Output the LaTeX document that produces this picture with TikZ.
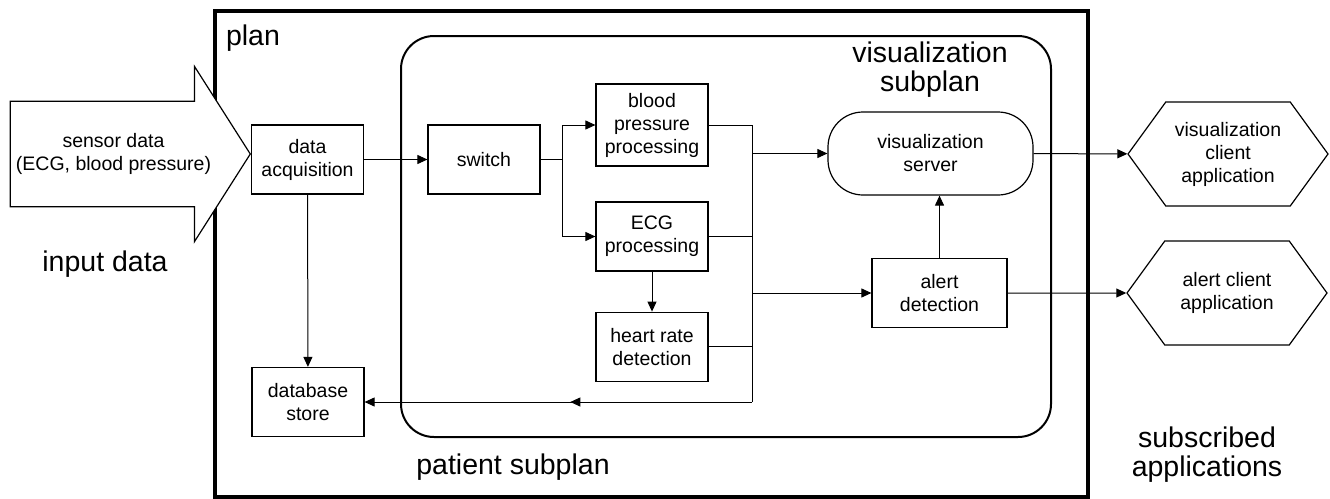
\documentclass[tikz,border=0pt]{standalone}
\usepackage{fontspec}
\setmainfont{Liberation Sans}
\usetikzlibrary{arrows.meta, positioning, shapes.arrows, shapes.symbols, decorations.markings}

\begin{document}
\begin{tikzpicture}[
  x=1pt, y=-1pt,
  font=\fontsize{19.5}{23}\selectfont,
  box/.style={draw, line width=1.2pt, align=center, minimum width=112pt, minimum height=69pt, inner sep=2pt, fill=white},
  big/.style={font=\fontsize{28.5}{29}\selectfont, align=center},
  frame/.style={draw, inner sep=0pt},
  client/.style={draw, line width=1.2pt, shape=signal, signal to=east and west, signal pointer angle=108, minimum width=200pt, minimum height=104pt, align=center, inner sep=2pt},
  wire/.style={line width=1pt},
  arrow/.style={-{Triangle[length=10pt, width=9pt]}, line width=1pt},
  midtip/.style={postaction={decorate}, decoration={markings, mark=at position 0.469 with {\arrow{Triangle[length=10pt, width=9pt]}}}}
]
\useasboundingbox (0,0) rectangle (1330,498);

% FRAMES
\node[frame, line width=4pt, minimum width=873pt, minimum height=486pt] (plan) at (651.5,254) {};
\node[frame, line width=2pt, rounded corners=33pt, minimum width=650pt, minimum height=401pt] (patient) at (726,236.5) {};
\node[big] (planlbl) at (253,38) {plan};
\node[big] (patientlbl) at (513,467) {patient subplan};
\node[big] (vislbl) at (930,70) {visualization\\subplan};

% INPUT
\node[draw, line width=1.2pt, fill=white, shape=single arrow, single arrow head extend=35pt, single arrow tip angle=115, minimum height=240pt, inner ysep=31.5pt, align=center, anchor=tip] (sensor) at (251,154)
{sensor data\\(ECG, blood pressure)};
\node[big] (inputlbl) at (105,264) {input data};

% PATIENT SUBPLAN
\node[box] (acq) at (307.5,159.5) {data\\acquisition};
\node[box] (db) at (308,402) {database\\store};
\node[box] (switch) at (484,159.5) {switch};
\node[box, minimum height=82pt] (bp) at (652,125) {blood\\pressure\\processing};
\node[box] (ecg) at (652,236.5) {ECG\\processing};
\node[box, below=40pt of ecg] (hr) {heart rate\\detection};
\coordinate (split) at (562,159.5);
\coordinate (busbot) at (752,402);

% VISUALIZATION SUBPLAN
\node[box, draw, rounded corners=35pt, minimum width=205pt, minimum height=83pt] (server) at (930.5,153.5) {visualization\\server};
\node[box, minimum width=135pt] (alert) at (939.5,293) {alert\\detection};

% SUBSCRIBED APPLICATIONS
\node[client] (visclient) at (1228,154) {visualization\\client\\application};
\node[client] (alertclient) at (1227,293) {alert client\\application};
\node[big] (subslbl) at (1207,455) {subscribed\\applications};

% CONNECTORS
\draw[arrow] (acq) -- (switch);
\draw[arrow] (acq) -- (db);
\draw[wire] (switch.east) -- (split);
\draw[arrow] (split) |- (bp.west);
\draw[arrow] (split) |- (ecg.west);
\draw[arrow] (ecg) -- (hr);
\draw[wire] (bp.east) -| (busbot);
\draw[wire] (ecg.east) -- (ecg.east -| busbot);
\draw[wire] (hr.east) -- (hr.east -| busbot);
\draw[arrow, midtip] (busbot) -- (busbot -| db.east);
\draw[arrow] (server.west -| busbot) -- (server.west);
\draw[arrow] (alert.west -| busbot) -- (alert.west);
\draw[arrow] (alert.north) -- (alert.north |- server.south);
\draw[arrow] (server) -- (visclient);
\draw[arrow] (alert) -- (alertclient);

\end{tikzpicture}
\end{document}
